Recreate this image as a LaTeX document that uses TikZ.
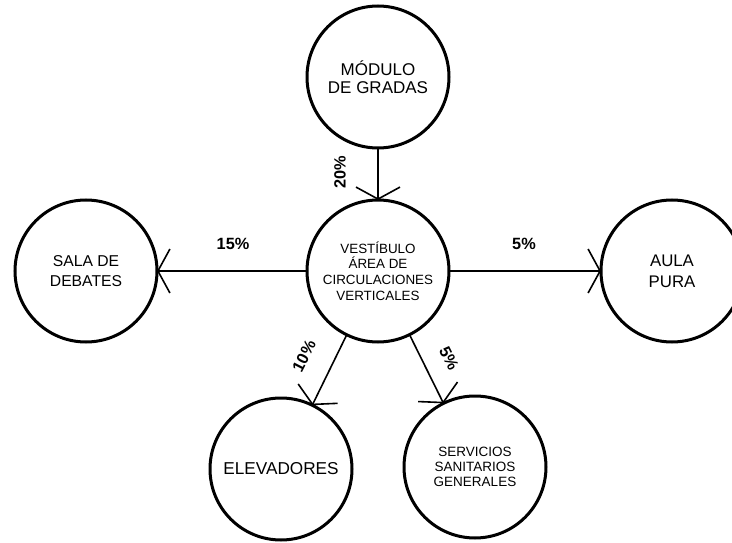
\documentclass[tikz,border=0pt]{standalone}
\usepackage{fontspec}
\setmainfont{Liberation Sans}
\usetikzlibrary{arrows.meta}
\begin{document}
\begin{tikzpicture}[x=1pt,y=-1pt,
  room/.style={circle,draw,line width=3pt,minimum size=142pt,inner sep=0pt,outer sep=0pt,align=center},
  flow/.style={line width=1.6pt,-{Straight Barb[length=12pt,width=44pt]}},
  pct/.style={font=\bfseries\fontsize{16.3}{18}\selectfont,inner sep=0pt}]
\useasboundingbox (0,0) rectangle (732,543);
\node[room,font=\fontsize{13.4}{15.7}\selectfont] (v) at (378,271) {VESTÍBULO\\ÁREA DE\\CIRCULACIONES\\VERTICALES};
\node[room,font=\fontsize{17}{18.5}\selectfont] (m) at (378,77) {MÓDULO\\DE GRADAS};
\node[room,font=\fontsize{15.7}{20}\selectfont] (s) at (86,271) {SALA DE\\DEBATES};
\node[room,font=\fontsize{16.8}{21}\selectfont] (a) at (672,271) {AULA\\PURA};
\node[room,font=\fontsize{17.2}{20}\selectfont] (e) at (281,469) {ELEVADORES};
\node[room,font=\fontsize{13.5}{15}\selectfont] (g) at (475,467) {SERVICIOS\\SANITARIOS\\GENERALES};
\draw[flow] (m) -- (v);
\draw[flow] (v) -- (s);
\draw[flow] (v) -- (a);
\draw[flow] (v) -- (e);
\draw[flow] (v) -- (g);
\node[pct,rotate=90] (p1) at (340,172) {20\%};
\node[pct] (p2) at (233,244) {15\%};
\node[pct] (p3) at (524,244) {5\%};
\node[pct,rotate=63] (p4) at (304,356) {10\%};
\node[pct,rotate=-63] (p5) at (449,358) {5\%};
\end{tikzpicture}
\end{document}
